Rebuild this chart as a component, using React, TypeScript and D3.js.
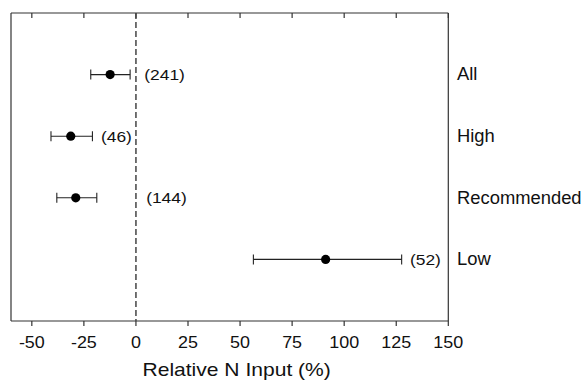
import React from "react";
import * as d3 from "d3";

const categories = ["All", "High", "Recommended", "Low"];
const means = [-12.4, -31.3, -28.9, 91.1];
const lower = [-21.7, -40.8, -38.0, 56.4];
const upper = [-2.8, -20.9, -18.8, 127.6];
const counts = ["(241)", "(46)", "(144)", "(52)"];
const countLabelX = [4.0, -16.8, 4.9, 131.6];
const xTicks = [-50, -25, 0, 25, 50, 75, 100, 125, 150];

const W = 584;
const H = 380;
const M = { left: 11, right: 584 - 448.3, top: 13, bottom: 380 - 321 };
const FONT = "'Liberation Sans', Arial, Helvetica, sans-serif";

export default function App() {
  const x = d3.scaleLinear().domain([-60, 150]).range([M.left, W - M.right]);
  const y = d3.scaleLinear().domain([0, 5]).range([M.top, H - M.bottom]);
  const x0 = M.left;
  const x1 = W - M.right;
  const y0 = M.top;
  const y1 = H - M.bottom;
  const ink = "#111";
  return (
    <div style={{ position: "absolute", left: 0, top: 0 }}>
      <svg width={W} height={H} style={{ display: "block", background: "#fff" }} fontFamily={FONT}>
        {/* frame */}
        <line x1={x0} x2={x1} y1={y0} y2={y0} stroke="#333" strokeWidth={1.2} />
        <line x1={x0} x2={x1} y1={y1} y2={y1} stroke="#333" strokeWidth={1.2} />
        <line x1={x0} x2={x0} y1={y0} y2={y1} stroke="#333" strokeWidth={1.2} />
        <line x1={x1} x2={x1} y1={y0} y2={y1} stroke="#333" strokeWidth={1.2} />
        {/* ticks */}
        {xTicks.map((t) => (
          <g key={t}>
            <line x1={x(t)} x2={x(t)} y1={y1} y2={y1 + 5} stroke="#333" strokeWidth={1.2} />
            <line x1={x(t)} x2={x(t)} y1={y0} y2={y0 + 5} stroke="#333" strokeWidth={1.2} />
            <text
              transform={`translate(${x(t)},${347.5}) scale(1.12,1)`}
              textAnchor="middle"
              fontSize={16}
              fill={ink}
            >
              {t}
            </text>
          </g>
        ))}
        {/* zero line */}
        <line x1={x(0)} x2={x(0)} y1={y0} y2={y1} stroke="#444" strokeWidth={1.5} strokeDasharray="6,3" />
        {/* error bars */}
        {categories.map((c, i) => {
          const yy = y(i + 1);
          return (
            <g key={c}>
              <line x1={x(lower[i])} x2={x(upper[i])} y1={yy} y2={yy} stroke="#222" strokeWidth={1.1} />
              <line x1={x(lower[i])} x2={x(lower[i])} y1={yy - 5} y2={yy + 5} stroke="#222" strokeWidth={1.1} />
              <line x1={x(upper[i])} x2={x(upper[i])} y1={yy - 5} y2={yy + 5} stroke="#222" strokeWidth={1.1} />
              <circle cx={x(means[i])} cy={yy} r={4.6} fill="#000" />
              <text
                transform={`translate(${x(countLabelX[i])},${yy + 5.5}) scale(1.16,1)`}
                fontSize={15}
                fill={ink}
              >
                {counts[i]}
              </text>
              <text
                transform={`translate(${457},${yy + 5.8}) scale(1.05,1)`}
                fontSize={17.5}
                fill={ink}
              >
                {c}
              </text>
            </g>
          );
        })}
        {/* axis title */}
        <text
          transform={`translate(${(x0 + x1) / 2 + 7},${375.5}) scale(1.17,1)`}
          textAnchor="middle"
          fontSize={18}
          fill={ink}
        >
          Relative N Input (%)
        </text>
      </svg>
    </div>
  );
}
